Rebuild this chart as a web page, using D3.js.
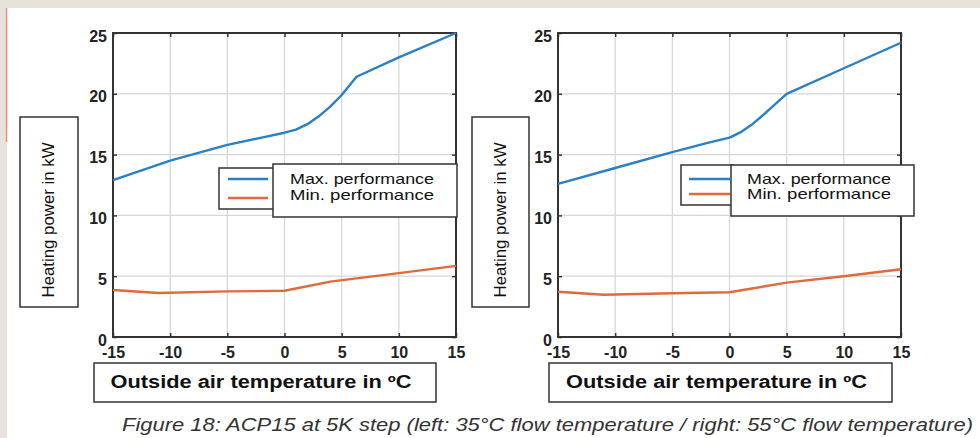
<!DOCTYPE html>
<html>
<head>
<meta charset="utf-8">
<script src="https://cdn.jsdelivr.net/npm/d3@7"></script>
<style>
  body { margin: 0; background: #e7e3db; }
  svg { display: block; }
  text { font-family: Arial, "Liberation Sans", sans-serif; }
</style>
</head>
<body>
<script>
// values
var xTicks = [-15, -10, -5, 0, 5, 10, 15];
var yTicks = [0, 5, 10, 15, 20, 25];

var maxTempLeft = [-15, -10, -5, -2, 0, 1, 2, 3, 4, 5, 6.3, 10, 15];
var maxPowerLeft = [12.9, 14.5, 15.8, 16.4, 16.8, 17.05, 17.5, 18.15, 18.95, 19.9, 21.4, 23.0, 25.0];
var minTempLeft = [-15, -11, -5, 0, 4, 10, 15];
var minPowerLeft = [3.87, 3.62, 3.75, 3.8, 4.55, 5.25, 5.85];

var maxTempRight = [-15, -10, -5, -2, 0, 1, 2, 3, 4, 5, 10, 15];
var maxPowerRight = [12.6, 13.9, 15.2, 15.95, 16.4, 16.85, 17.5, 18.3, 19.15, 20.0, 22.1, 24.2];
var minTempRight = [-15, -11, -5, 0, 5, 10, 15];
var minPowerRight = [3.72, 3.48, 3.6, 3.68, 4.47, 5.0, 5.57];

var seriesNames = ["Max. performance", "Min. performance"];
var colors = ["#2a80c6", "#e2693a"];

var yLabel = "Heating power in kW";
var xLabel = "Outside air temperature in \u00baC";
var caption = "Figure 18: ACP15 at 5K step (left: 35\u00b0C flow temperature / right: 55\u00b0C flow temperature)";

var W = 980, H = 438;

var svg = d3.select("body").append("svg")
    .attr("width", W)
    .attr("height", H);

// white page with the red margin line
svg.append("rect").attr("x", 7).attr("y", 8).attr("width", W - 7).attr("height", H - 8).attr("fill", "#fff");
svg.append("line").attr("x1", 6.5).attr("x2", 6.5).attr("y1", 8).attr("y2", 142)
    .attr("stroke", "#f08a80").attr("stroke-width", 1.5);

function zip(a, b) {
    return a.map(function (d, i) { return [d, b[i]]; });
}

var panels = [
    {left: 113, right: 456, yBox: [20, 78], xBox: [94, 436],
     legBack: [219, 276, 168, 209], legFront: [273, 457, 164, 217], legLineX: [228, 268], legLineY: [179, 198],
     legTextX: 290, legTextY: [184, 200],
     max: zip(maxTempLeft, maxPowerLeft), min: zip(minTempLeft, minPowerLeft)},
    {left: 558, right: 901, yBox: [472, 529], xBox: [549, 892],
     legBack: [681, 733, 165, 205], legFront: [731, 914, 165, 216], legLineX: [689, 730], legLineY: [179, 194],
     legTextX: 747, legTextY: [184, 199],
     max: zip(maxTempRight, maxPowerRight), min: zip(minTempRight, minPowerRight)}
];

var plotTop = 33, plotBottom = 337;
var fmt = function (d) { return String(d); };   // plain hyphen minus like the original

panels.forEach(function (p) {
    var x = d3.scaleLinear().domain([-15, 15]).range([p.left, p.right]);
    var y = d3.scaleLinear().domain([0, 25]).range([plotBottom, plotTop]);
    var g = svg.append("g");

    // grid
    g.selectAll(".vgrid").data(xTicks.slice(1, -1)).enter().append("line")
        .attr("x1", x).attr("x2", x).attr("y1", plotTop).attr("y2", plotBottom)
        .attr("stroke", "#d6d6d6").attr("stroke-width", 1.2);
    g.selectAll(".hgrid").data(yTicks.slice(1, -1)).enter().append("line")
        .attr("y1", y).attr("y2", y).attr("x1", p.left).attr("x2", p.right)
        .attr("stroke", "#d6d6d6").attr("stroke-width", 1.2);

    // axes (inward ticks)
    var xa = g.append("g").attr("transform", "translate(0," + plotBottom + ")")
        .call(d3.axisBottom(x).tickValues(xTicks).tickSize(-4).tickPadding(11).tickFormat(fmt));
    var xt = g.append("g").attr("transform", "translate(0," + plotTop + ")")
        .call(d3.axisTop(x).tickValues(xTicks).tickSize(-4).tickFormat(""));
    var ya = g.append("g").attr("transform", "translate(" + p.left + ",0)")
        .call(d3.axisLeft(y).tickValues(yTicks).tickSize(-4).tickPadding(6).tickFormat(fmt));
    var yr = g.append("g").attr("transform", "translate(" + p.right + ",0)")
        .call(d3.axisRight(y).tickValues(yTicks).tickSize(-4).tickFormat(""));
    [xa, xt, ya, yr].forEach(function (a) {
        a.select(".domain").remove();
        a.selectAll(".tick line").attr("stroke", "#333").attr("stroke-width", 1.5);
    });
    xa.selectAll("text").attr("font-size", 16).attr("font-weight", "bold").attr("fill", "#222")
        .attr("font-family", "Arial, 'Liberation Sans', sans-serif").attr("dy", "0.6em");
    ya.selectAll("text").attr("font-size", 16).attr("font-weight", "bold").attr("fill", "#222")
        .attr("font-family", "Arial, 'Liberation Sans', sans-serif").attr("dy", "0.5em");

    // frame
    g.append("rect").attr("x", p.left).attr("y", plotTop)
        .attr("width", p.right - p.left).attr("height", plotBottom - plotTop)
        .attr("fill", "none").attr("stroke", "#333").attr("stroke-width", 2);

    // lines
    var line = d3.line().x(function (d) { return x(d[0]); }).y(function (d) { return y(d[1]); });
    [p.max, p.min].forEach(function (s, i) {
        g.append("path").datum(s).attr("d", line)
            .attr("fill", "none").attr("stroke", colors[i]).attr("stroke-width", 2.4)
            .attr("stroke-linejoin", "round");
    });

    // legend
    g.append("rect").attr("x", p.legBack[0]).attr("y", p.legBack[2])
        .attr("width", p.legBack[1] - p.legBack[0]).attr("height", p.legBack[3] - p.legBack[2])
        .attr("fill", "#fff").attr("stroke", "#333").attr("stroke-width", 1.5);
    seriesNames.forEach(function (n, i) {
        g.append("line").attr("x1", p.legLineX[0]).attr("x2", p.legLineX[1])
            .attr("y1", p.legLineY[i]).attr("y2", p.legLineY[i])
            .attr("stroke", colors[i]).attr("stroke-width", 2.4);
    });
    g.append("rect").attr("x", p.legFront[0]).attr("y", p.legFront[2])
        .attr("width", p.legFront[1] - p.legFront[0]).attr("height", p.legFront[3] - p.legFront[2])
        .attr("fill", "#fff").attr("stroke", "#333").attr("stroke-width", 1.5);
    seriesNames.forEach(function (n, i) {
        g.append("text").attr("x", p.legTextX).attr("y", p.legTextY[i])
            .attr("font-size", 14.5).attr("fill", "#111").attr("textLength", 144)
            .attr("lengthAdjust", "spacingAndGlyphs").text(n);
    });

    // y label box
    g.append("rect").attr("x", p.yBox[0]).attr("y", 117)
        .attr("width", p.yBox[1] - p.yBox[0]).attr("height", 307 - 117)
        .attr("fill", "#fff").attr("stroke", "#333").attr("stroke-width", 1.5);
    var yc = (p.yBox[0] + p.yBox[1]) / 2;
    g.append("text")
        .attr("transform", "translate(" + (yc + 5) + ",220) rotate(-90)")
        .attr("text-anchor", "middle").attr("font-size", 17).attr("fill", "#111")
        .attr("textLength", 155).attr("lengthAdjust", "spacingAndGlyphs")
        .text(yLabel);

    // x label box
    g.append("rect").attr("x", p.xBox[0]).attr("y", 363)
        .attr("width", p.xBox[1] - p.xBox[0]).attr("height", 402 - 363)
        .attr("fill", "#fff").attr("stroke", "#333").attr("stroke-width", 1.5);
    g.append("text").attr("x", (p.xBox[0] + p.xBox[1]) / 2 - 4).attr("y", 387.5)
        .attr("text-anchor", "middle").attr("font-size", 18).attr("font-weight", "bold").attr("fill", "#111")
        .attr("textLength", 301).attr("lengthAdjust", "spacingAndGlyphs")
        .text(xLabel);
});

svg.append("text").attr("x", 122).attr("y", 431)
    .attr("font-size", 18).attr("font-style", "italic").attr("fill", "#333")
    .attr("textLength", 851).attr("lengthAdjust", "spacingAndGlyphs")
    .text(caption);
</script>
</body>
</html>
